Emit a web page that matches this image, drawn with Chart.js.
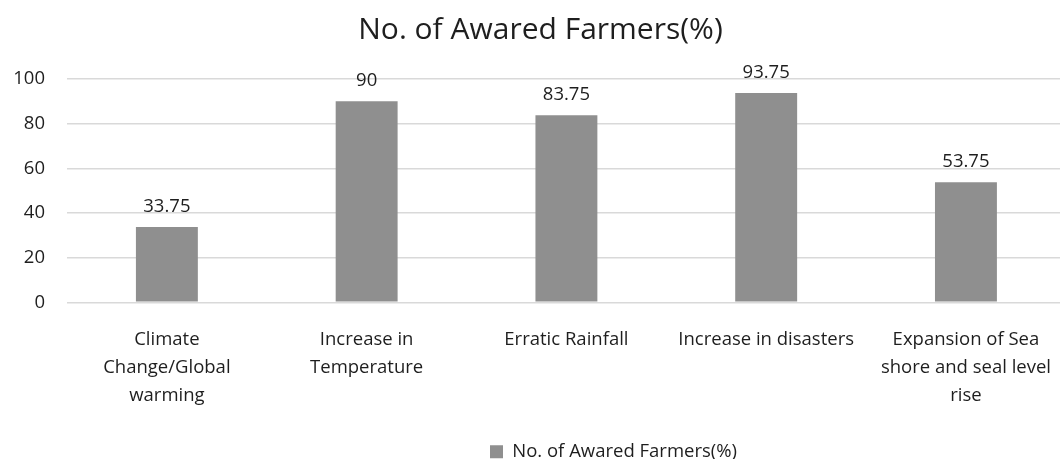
<!DOCTYPE html>
<html>
<head>
<meta charset="utf-8">
<script src="https://cdn.jsdelivr.net/npm/chart.js@4.4.0/dist/chart.umd.min.js"></script>
<style>
    html, body { margin: 0; padding: 0; background: #fff; overflow: hidden; }
    #wrap { position: relative; width: 1067px; height: 459px; }
</style>
</head>
<body>
<div id="wrap"><canvas id="awareness-chart"></canvas></div>
<script>
'use strict';

const categories = [
    ['Climate', 'Change/Global', 'warming'],
    ['Increase in', 'Temperature'],
    ['Erratic Rainfall'],
    ['Increase in disasters'],
    ['Expansion of Sea', 'shore and seal level', 'rise']
]
const awaredFarmers = [33.75, 90, 83.75, 93.75, 53.75]
const yTicks = [0, 20, 40, 60, 80, 100]

const seriesName = 'No. of Awared Farmers(%)'
const textColor = '#1e1e1e'
const fontFamily = '"Open Sans", "Liberation Sans", sans-serif'

// value labels above every bar

const valueLabels = {
    id: 'valueLabels',
    afterDatasetsDraw(chart) {
        const ctx = chart.ctx
        const meta = chart.getDatasetMeta(0)
        ctx.save()
        ctx.font = `18.5px ${fontFamily}`
        ctx.fillStyle = textColor
        ctx.textAlign = 'center'
        ctx.textBaseline = 'alphabetic'
        meta.data.forEach((bar, i) => {
            ctx.fillText(String(awaredFarmers[i]), bar.x, bar.y - 15)
        })
        ctx.restore()
    }
}

// nudge title and legend, like the original layout

const shiftBoxes = {
    id: 'shiftBoxes',
    afterLayout(chart) {
        chart.titleBlock.left += 7
        chart.titleBlock.right += 7
        chart.legend.left += 80
        chart.legend.right += 80
        chart.legend.top += 15
        chart.legend.bottom += 15
    }
}

new Chart(document.getElementById('awareness-chart'), {
    type: 'bar',
    data: {
        labels: categories,
        datasets: [{
            label: seriesName,
            data: awaredFarmers,
            backgroundColor: '#8f8f8f',
            borderWidth: 0,
            categoryPercentage: 1,
            barPercentage: 0.31
        }]
    },
    options: {
        responsive: true,
        maintainAspectRatio: false,
        animation: false,
        layout: {
            padding: { left: 0, right: 0, top: 0, bottom: 3 }
        },
        plugins: {
            title: {
                display: true,
                text: seriesName,
                color: textColor,
                font: { family: fontFamily, size: 30, weight: 'normal' },
                padding: { top: 12, bottom: 31 }
            },
            legend: {
                position: 'bottom',
                labels: {
                    color: textColor,
                    font: { family: fontFamily, size: 18.5 },
                    boxWidth: 13,
                    boxHeight: 13,
                    padding: 2
                }
            },
            tooltip: { enabled: false }
        },
        scales: {
            x: {
                grid: { display: false },
                border: { display: false },
                ticks: {
                    color: textColor,
                    font: { family: fontFamily, size: 18.5, lineHeight: 1.5 },
                    padding: 16,
                    maxRotation: 0,
                    autoSkip: false
                }
            },
            y: {
                min: 0,
                max: 100,
                afterFit: scale => { scale.width = 67 },
                afterBuildTicks: scale => { scale.ticks = yTicks.map(v => ({ value: v })) },
                grid: { color: '#d9d9d9', lineWidth: 1.5, drawTicks: false },
                border: { display: false },
                ticks: {
                    color: textColor,
                    font: { family: fontFamily, size: 18.5 },
                    padding: 22
                }
            }
        }
    },
    plugins: [valueLabels, shiftBoxes]
});
</script>
</body>
</html>
